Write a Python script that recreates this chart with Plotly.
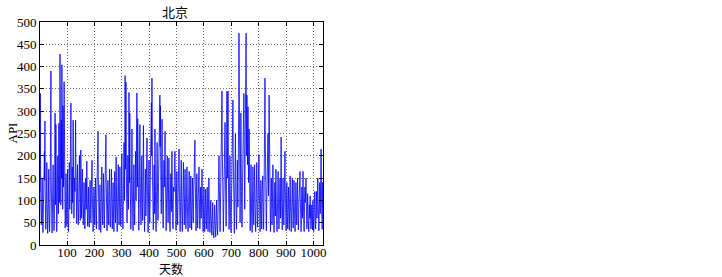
import plotly.graph_objects as go

title_text = "北京"
x_label = "天数"
y_label = "API"
x_ticks = [100, 200, 300, 400, 500, 600, 700, 800, 900, 1000]
y_ticks = [0, 50, 100, 150, 200, 250, 300, 350, 400, 450, 500]

api = [
    120, 340, 180, 95, 60, 45, 70, 110, 150, 90, 40, 28, 60, 85, 130, 165, 210, 145, 278, 120,
    70, 35, 55, 90, 140, 185, 100, 50, 26, 45, 80, 125, 170, 95, 60, 30, 50, 100, 160, 220,
    390, 150, 70, 40, 27, 55, 90, 135, 180, 110, 60, 32, 45, 80, 140, 296, 185, 90, 271, 120,
    60, 30, 50, 95, 150, 200, 130, 70, 110, 273, 180, 95, 160, 428, 250, 140, 90, 200, 280, 150,
    404, 230, 120, 80, 312, 200, 130, 180, 366, 220, 110, 60, 38, 55, 100, 160, 120, 70, 42, 60,
    110, 170, 90, 50, 30, 60, 120, 185, 140, 80, 160, 230, 150, 318, 200, 110, 70, 130, 175, 95,
    150, 280, 160, 90, 60, 100, 150, 210, 120, 170, 280, 190, 110, 70, 48, 90, 140, 180, 100, 60,
    45, 70, 120, 160, 200, 130, 80, 55, 90, 213, 140, 90, 60, 100, 145, 170, 110, 70, 45, 65,
    100, 140, 95, 60, 36, 70, 110, 150, 120, 80, 130, 188, 120, 70, 42, 60, 95, 130, 85, 55,
    40, 65, 100, 145, 110, 70, 50, 80, 125, 160, 190, 120, 75, 50, 30, 55, 90, 130, 100, 65,
    45, 70, 110, 150, 95, 60, 36, 85, 140, 180, 130, 200, 255, 150, 90, 55, 34, 65, 100, 135,
    90, 55, 28, 60, 95, 140, 175, 110, 65, 45, 80, 120, 160, 100, 60, 38, 70, 115, 155, 190,
    130, 247, 140, 80, 50, 32, 60, 100, 145, 105, 65, 45, 75, 120, 170, 120, 70, 40, 55, 95,
    135, 170, 110, 65, 36, 60, 100, 140, 95, 55, 30, 70, 120, 165, 115, 70, 50, 90, 197, 140,
    85, 50, 30, 65, 105, 150, 180, 120, 70, 45, 80, 130, 175, 125, 75, 42, 60, 110, 160, 205,
    140, 85, 50, 36, 75, 120, 170, 230, 160, 100, 180, 380, 250, 170, 365, 220, 130, 80, 50, 90,
    150, 200, 130, 80, 120, 342, 210, 140, 296, 180, 100, 60, 35, 70, 130, 190, 260, 160, 90, 55,
    32, 75, 130, 180, 120, 70, 45, 90, 150, 210, 160, 100, 150, 230, 341, 200, 130, 283, 170, 95,
    55, 33, 80, 140, 200, 270, 180, 110, 65, 45, 90, 150, 200, 140, 85, 55, 110, 190, 268, 170,
    100, 60, 30, 70, 120, 170, 110, 65, 110, 170, 200, 240, 150, 90, 55, 28, 80, 140, 190, 130,
    80, 50, 90, 150, 210, 160, 230, 319, 200, 374, 250, 150, 90, 55, 34, 75, 130, 180, 120, 70,
    260, 170, 100, 60, 30, 70, 120, 180, 230, 150, 90, 55, 80, 140, 200, 150, 210, 260, 336, 220,
    312, 190, 120, 70, 140, 200, 282, 180, 110, 65, 38, 85, 140, 190, 130, 160, 200, 255, 160, 95,
    55, 32, 75, 130, 180, 200, 130, 80, 50, 90, 145, 195, 130, 80, 50, 30, 65, 110, 160, 120,
    75, 130, 210, 150, 90, 55, 36, 80, 130, 175, 120, 160, 190, 210, 140, 85, 50, 33, 75, 120,
    165, 110, 65, 45, 90, 140, 180, 150, 215, 140, 85, 50, 30, 60, 105, 150, 190, 130, 75, 45,
    30, 65, 110, 155, 185, 120, 70, 45, 80, 130, 170, 115, 65, 36, 55, 95, 140, 175, 120, 70,
    45, 30, 60, 100, 145, 165, 110, 65, 38, 75, 120, 155, 100, 60, 34, 65, 105, 150, 120, 75,
    50, 80, 130, 170, 150, 190, 235, 160, 95, 55, 32, 70, 115, 160, 110, 65, 38, 60, 100, 140,
    120, 175, 110, 65, 36, 55, 90, 130, 100, 60, 105, 140, 170, 115, 70, 45, 30, 60, 95, 130,
    90, 55, 30, 55, 90, 125, 95, 60, 36, 70, 105, 130, 90, 55, 30, 60, 100, 150, 105, 65,
    40, 28, 55, 85, 100, 70, 45, 27, 22, 45, 75, 95, 60, 32, 20, 16, 35, 60, 90, 70,
    45, 25, 18, 40, 70, 100, 80, 50, 28, 22, 55, 110, 150, 120, 200, 140, 85, 50, 30, 70,
    120, 180, 240, 200, 260, 345, 220, 130, 80, 50, 30, 70, 130, 190, 230, 160, 275, 180, 100, 60,
    42, 90, 160, 345, 230, 150, 260, 345, 200, 110, 65, 35, 80, 140, 200, 130, 75, 45, 28, 70,
    120, 180, 230, 160, 250, 325, 210, 130, 75, 45, 26, 80, 150, 200, 250, 170, 100, 55, 35, 70,
    130, 190, 140, 85, 130, 220, 300, 475, 280, 160, 90, 50, 120, 200, 296, 200, 120, 70, 40, 80,
    140, 210, 160, 230, 280, 340, 220, 130, 80, 150, 240, 300, 380, 475, 280, 200, 336, 250, 180, 220,
    310, 210, 140, 190, 260, 170, 100, 60, 32, 75, 130, 180, 120, 70, 45, 28, 70, 120, 175, 120,
    70, 45, 80, 130, 180, 140, 85, 50, 30, 65, 110, 160, 185, 130, 75, 40, 60, 100, 150, 180,
    202, 140, 85, 50, 30, 60, 100, 145, 110, 65, 36, 70, 120, 140, 155, 100, 60, 35, 75, 140,
    210, 280, 374, 240, 150, 90, 55, 32, 80, 140, 200, 160, 210, 250, 170, 110, 200, 336, 220, 140,
    85, 50, 30, 60, 100, 150, 120, 75, 45, 80, 130, 180, 125, 75, 40, 28, 60, 100, 140, 110,
    65, 120, 170, 120, 70, 45, 30, 60, 95, 140, 165, 110, 65, 36, 55, 90, 130, 150, 100, 60,
    150, 242, 160, 95, 55, 34, 70, 115, 150, 105, 65, 45, 80, 130, 175, 210, 140, 85, 50, 32,
    65, 100, 140, 105, 65, 36, 55, 90, 130, 100, 60, 33, 75, 120, 155, 110, 70, 45, 30, 60,
    95, 135, 150, 100, 60, 38, 70, 110, 145, 105, 65, 45, 30, 60, 100, 140, 110, 70, 45, 75,
    115, 150, 100, 60, 34, 55, 90, 125, 140, 120, 165, 110, 65, 40, 30, 60, 95, 130, 95, 60,
    110, 165, 120, 75, 45, 30, 65, 100, 130, 95, 110, 130, 150, 100, 60, 36, 55, 85, 115, 90,
    55, 38, 30, 60, 90, 80, 60, 110, 85, 55, 36, 45, 65, 90, 70, 50, 34, 100, 75, 50,
    30, 45, 70, 95, 120, 85, 55, 36, 60, 90, 120, 90, 60, 80, 115, 150, 110, 70, 45, 32,
    65, 100, 140, 105, 70, 120, 170, 215, 150, 90, 55, 35, 80, 140, 60,
]
days = list(range(1, len(api) + 1))

serif = "Liberation Serif, Noto Sans CJK SC"
cjk = "Noto Sans CJK SC"

W, H = 722, 277
L, T, R, B = 40, 22, 323, 245   # plot box in pixels

fig = go.Figure()
fig.add_trace(go.Scatter(x=days, y=api, mode="lines",
                         line=dict(color="#0000ff", width=0.8),
                         showlegend=False, hoverinfo="skip"))

axis_common = dict(
    showline=True, linecolor="black", linewidth=1, mirror="ticks",
    ticks="inside", ticklen=4, tickcolor="black", automargin=False,
    showgrid=True, gridcolor="#707070", griddash="1px,2px", gridwidth=1,
    zeroline=False, tickfont=dict(family=serif, size=13, color="black"),
)

fig.update_layout(
    width=W, height=H,
    margin=dict(l=L, r=W - R, t=T, b=H - B, autoexpand=False),
    paper_bgcolor="white", plot_bgcolor="white",
    hovermode=False,
    xaxis=dict(range=[1, 1035], tickvals=x_ticks, ticklabelstandoff=-5, **axis_common),
    yaxis=dict(range=[0, 500], tickvals=y_ticks, **axis_common),
    annotations=[
        dict(text=title_text, xref="paper", yref="paper",
             x=(175 - L) / (R - L), y=1 + (T - 11) / (B - T),
             xanchor="center", yanchor="middle", showarrow=False,
             font=dict(family=cjk, size=13, color="black")),
        dict(text=x_label, xref="paper", yref="paper",
             x=(171 - L) / (R - L), y=-(268 - B) / (B - T),
             xanchor="center", yanchor="middle", showarrow=False,
             font=dict(family=cjk, size=12, color="black")),
        dict(text=y_label, xref="paper", yref="paper", textangle=-90,
             x=-(L - 12) / (R - L), y=0.5,
             xanchor="center", yanchor="middle", showarrow=False,
             font=dict(family=serif, size=13, color="black")),
    ],
)

fig.write_html("out.html", config={"displayModeBar": False},
               post_script="document.body.style.margin='0';document.body.style.overflow='hidden';")
